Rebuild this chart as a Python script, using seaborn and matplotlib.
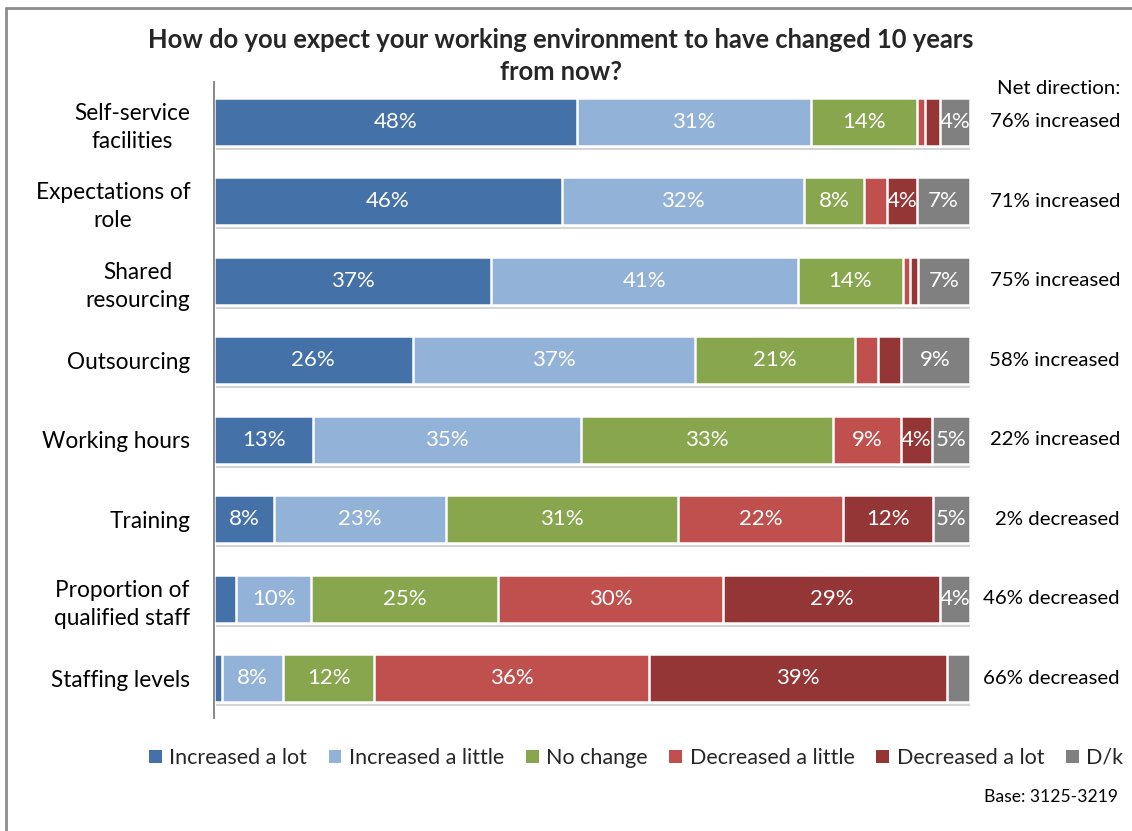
import numpy as np
import pandas as pd
import matplotlib
matplotlib.use("Agg")
import matplotlib.pyplot as plt
import matplotlib.patheffects as pe
from matplotlib.lines import Line2D
from matplotlib.patches import Patch
import matplotlib.transforms as mtransforms
import seaborn as sns

# Survey responses (% of respondents) per aspect of the working environment
categories = [
    "Self-service\nfacilities",
    "Expectations of\nrole",
    "Shared\nresourcing",
    "Outsourcing",
    "Working hours",
    "Training",
    "Proportion of\nqualified staff",
    "Staffing levels",
]
increased_a_lot = [48, 46, 37, 26, 13, 8, 3, 1]
increased_a_little = [31, 32, 41, 37, 35, 23, 10, 8]
no_change = [14, 8, 14, 21, 33, 31, 25, 12]
decreased_a_little = [1, 3, 1, 3, 9, 22, 30, 36]
decreased_a_lot = [2, 4, 1, 3, 4, 12, 29, 39]
dont_know = [4, 7, 7, 9, 5, 5, 4, 3]

net_direction = [
    "76% increased", "71% increased", "75% increased", "58% increased",
    "22% increased", "2% decreased", "46% decreased", "66% decreased",
]

series_names = ["Increased a lot", "Increased a little", "No change",
                "Decreased a little", "Decreased a lot", "D/k"]
series_values = [increased_a_lot, increased_a_little, no_change,
                 decreased_a_little, decreased_a_lot, dont_know]
colors = ["#4472A8", "#93B2D8", "#88A64E", "#C0504D", "#943635", "#808080"]

sns.set_theme(style="white")
plt.rcParams["font.family"] = ["Lato", "DejaVu Sans"]

fig = plt.figure(figsize=(11.32, 8.31), dpi=100)
ax = fig.add_axes([214 / 1132, (831 - 718) / 831, 756 / 1132, (718 - 82) / 831])

vals = np.array(series_values, dtype=float)          # shape (series, rows)
shares = vals / vals.sum(axis=0) * 100                # 100% stacked
cum = np.cumsum(shares, axis=0)

# Draw cumulative totals from the widest down so each segment shows
for i in range(len(series_names) - 1, -1, -1):
    df = pd.DataFrame({"category": categories, "value": cum[i]})
    sns.barplot(data=df, x="value", y="category", orient="h", color=colors[i],
                saturation=1, width=0.6, edgecolor="white", linewidth=1.8,
                ax=ax)
    if i == len(series_names) - 1:
        for p in ax.patches:
            p.set_path_effects([pe.SimplePatchShadow(offset=(1.5, -3), alpha=0.25,
                                                     shadow_rgbFace="#555555"),
                                pe.Normal()])

# Percentage labels inside each segment
for i in range(len(series_names)):
    for r in range(len(categories)):
        v = series_values[i][r]
        if v >= 4:
            xc = cum[i][r] - shares[i][r] / 2
            ax.text(xc, r, f"{v}%", ha="center", va="center", color="white",
                    fontsize=16)

ax.set_xlim(0, 100)
ax.set_ylim(7.5, -0.5)
ax.set_xlabel("")
ax.set_ylabel("")
ax.set_xticks([])
ax.tick_params(axis="y", length=0, pad=17, labelsize=16.3, labelcolor="#000000")
for lab in ax.get_yticklabels():
    lab.set_multialignment("center")
    lab.set_linespacing(1.4)
for s in ["top", "right", "bottom"]:
    ax.spines[s].set_visible(False)
ax.spines["left"].set_color("#7f7f7f")
ax.spines["left"].set_linewidth(1.3)

# Net direction column
trans = mtransforms.blended_transform_factory(fig.transFigure, ax.transData)
for r, txt in enumerate(net_direction):
    ax.text(1120 / 1132, r, txt, transform=trans, ha="right", va="center",
            fontsize=14.7, color="black")
fig.text(1120 / 1132, 1 - 89 / 831, "Net direction:", ha="right", va="center",
         fontsize=14.7, color="black")

fig.text(561 / 1132, 1 - 56 / 831,
         "How do you expect your working environment to have changed 10 years\nfrom now?",
         ha="center", va="center", fontsize=18.4, fontweight="bold",
         linespacing=1.35)

handles = [Patch(facecolor=c, edgecolor="none") for c in colors]
fig.legend(handles, series_names, loc="center", ncol=6,
           bbox_to_anchor=(636 / 1132, 1 - 758 / 831), frameon=False,
           fontsize=15.5, handlelength=0.6, handleheight=0.6, handletextpad=0.35,
           columnspacing=1.0)

fig.text(1118 / 1132, 1 - 797 / 831, "Base: 3125-3219", ha="right", va="center",
         fontsize=12.6, color="black")

# Chart frame (top and left edges)
fig.add_artist(Line2D([6 / 1132, 1.0], [1 - 8 / 831, 1 - 8 / 831],
                      transform=fig.transFigure, color="#8c8c8c", linewidth=2))
fig.add_artist(Line2D([6 / 1132, 6 / 1132], [0.0, 1 - 8 / 831],
                      transform=fig.transFigure, color="#8c8c8c", linewidth=2))

fig.savefig("out.png", dpi=100)
